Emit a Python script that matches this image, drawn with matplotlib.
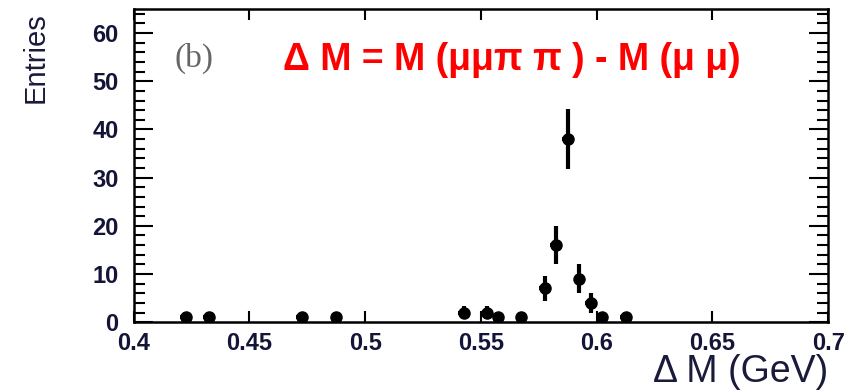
import matplotlib
matplotlib.use("Agg")
import matplotlib.pyplot as plt
import numpy as np
from matplotlib.ticker import MultipleLocator

# Data
bin_centers = [0.4225, 0.4325, 0.4725, 0.4875, 0.5425, 0.5525, 0.5575, 0.5675,
               0.5775, 0.5825, 0.5875, 0.5925, 0.5975, 0.6025, 0.6125]
entries = [1, 1, 1, 1, 2, 2, 1, 1, 7, 16, 38, 9, 4, 1, 1]
bin_half_width = 0.0025
x_ticks = [0.4, 0.45, 0.5, 0.55, 0.6, 0.65, 0.7]
x_tick_labels = ["0.4", "0.45", "0.5", "0.55", "0.6", "0.65", "0.7"]
y_ticks = [0, 10, 20, 30, 40, 50, 60]

errors = np.sqrt(np.array(entries, dtype=float))

fig = plt.figure(figsize=(8.52, 3.90), dpi=100)
ax = fig.add_axes([0.157, 0.174, 0.815, 0.803])

ax.errorbar(bin_centers, entries, yerr=errors, xerr=bin_half_width,
            fmt='o', color='black', markersize=8, elinewidth=3, capsize=0)

ax.set_xlim(0.4, 0.7)
ax.set_ylim(0, 65)
ax.set_xticks(x_ticks)
ax.set_xticklabels(x_tick_labels)
ax.set_yticks(y_ticks)
ax.yaxis.set_minor_locator(MultipleLocator(2))

tick_color = '#141438'
for lbl in ax.get_xticklabels() + ax.get_yticklabels():
    lbl.set_fontweight('bold')
    lbl.set_fontsize(17)
    lbl.set_color(tick_color)
    lbl.set_family('Liberation Sans')

ax.tick_params(axis='x', which='major', direction='in', length=8, width=1.5,
               top=True, bottom=True, pad=7)
ax.tick_params(axis='y', which='major', direction='in', length=14, width=1.5,
               left=True, right=True, pad=11)
ax.tick_params(axis='y', which='minor', direction='in', length=8, width=1.5,
               left=True, right=True)
for sp in ax.spines.values():
    sp.set_linewidth(1.8)

fig.text(36 / 852, 1 - 58 / 390, 'Entries', rotation=90, fontsize=21,
         family='Liberation Sans', color='#1a1a3a', ha='center', va='center')
fig.text(828 / 852, 8 / 390, 'Δ M (GeV)', fontsize=27, family='Liberation Sans',
         color='#1a1a3a', ha='right', va='baseline')

ax.text(174 / 852, 1 - 58 / 390, '(b)', transform=fig.transFigure, fontsize=24,
        family='Liberation Serif', color='#666666', va='center')
ax.text(283 / 852, 1 - 60 / 390, 'Δ M = M (μμπ π ) - M (μ μ)', transform=fig.transFigure,
        fontsize=27, fontweight='bold', family='Liberation Sans', color='#ff0000',
        va='center')

fig.savefig('out.png', dpi=100)
